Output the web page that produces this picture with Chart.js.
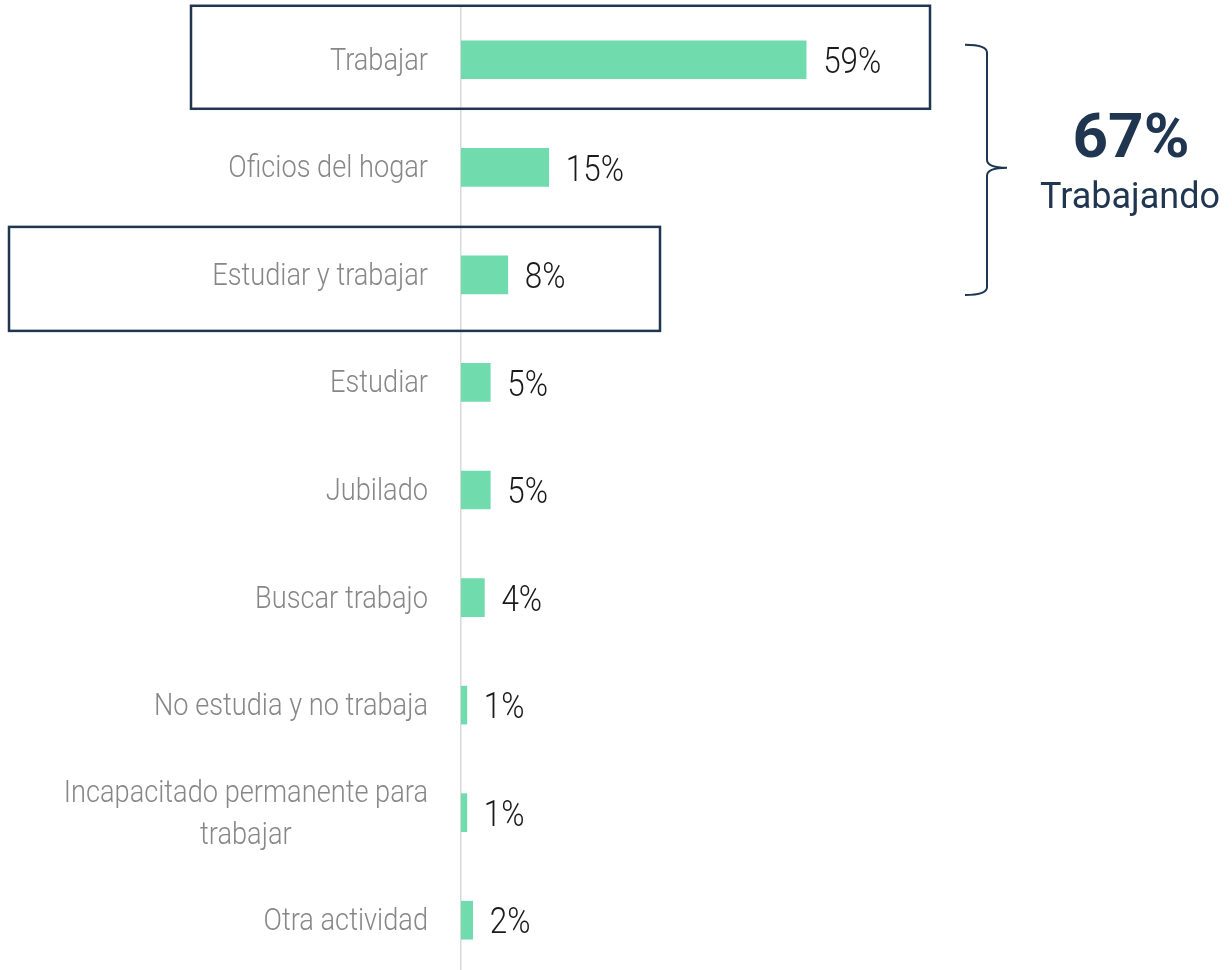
<!DOCTYPE html>
<html>
<head>
<meta charset="utf-8">
<script src="https://cdn.jsdelivr.net/npm/chart.js@4"></script>
<style>
  html, body { margin: 0; padding: 0; background: #fff; overflow: hidden; }
  #wrap { position: relative; width: 1232px; height: 974px; }
</style>
</head>
<body>
<div id="wrap"><canvas id="chart"></canvas></div>
<script>
const categories = [
  'Trabajar',
  'Oficios del hogar',
  'Estudiar y trabajar',
  'Estudiar',
  'Jubilado',
  'Buscar trabajo',
  'No estudia y no trabaja',
  ['Incapacitado permanente para', 'trabajar'],
  'Otra actividad',
];
const values = [59, 15, 8, 5, 5, 4, 1, 1, 2];
const highlighted = [0, 2];
const totalLabel = '67%';
const totalCaption = 'Trabajando';

const NAVY = '#1f3550';
const SQUEEZE = 0.85;

function condensedText(ctx, text, x, y, font, color, align) {
  ctx.save();
  ctx.font = font;
  ctx.fillStyle = color;
  ctx.textBaseline = 'middle';
  ctx.textAlign = align;
  ctx.translate(x, y);
  ctx.scale(SQUEEZE, 1);
  ctx.fillText(text, 0, 0);
  ctx.restore();
}

const labelsPlugin = {
  id: 'labels',
  afterDatasetsDraw(chart) {
    const { ctx } = chart;
    const yScale = chart.scales.y;
    const meta = chart.getDatasetMeta(0);

    // category labels, right edge 33px left of the axis
    categories.forEach((cat, i) => {
      const y = yScale.getPixelForTick(i) + 2;
      const lines = Array.isArray(cat) ? cat : [cat];
      const right = yScale.right - 33;
      const font = '300 32px Roboto';
      ctx.save();
      ctx.font = font;
      const widths = lines.map(l => ctx.measureText(l).width * SQUEEZE);
      ctx.restore();
      const maxW = Math.max(...widths);
      const lineH = 42;
      lines.forEach((line, j) => {
        const ly = y + (j - (lines.length - 1) / 2) * lineH;
        const cx = right - maxW / 2;
        condensedText(ctx, line, cx, ly, font, '#878787', 'center');
      });
    });

    // value labels
    meta.data.forEach((bar, i) => {
      condensedText(ctx, values[i] + '%', bar.x + 17, bar.y + 4, '300 37px Roboto', '#1a1a1a', 'left');
    });

    // highlight boxes: [left, right, offset above row centre, offset below]
    const boxes = { 0: [191, 930, 54, 49], 2: [9, 660, 48, 56] };
    ctx.save();
    ctx.strokeStyle = NAVY;
    ctx.lineWidth = 2.5;
    highlighted.forEach(i => {
      const y = yScale.getPixelForTick(i);
      const [x1, x2, up, down] = boxes[i];
      ctx.strokeRect(x1, y - up, x2 - x1, up + down);
    });

    // brace spanning the highlighted rows
    const yTop = yScale.getPixelForTick(0) - 15;
    const yBot = yScale.getPixelForTick(2) + 20;
    const yMid = (yTop + yBot) / 2 - 2;
    const bx = 987;
    ctx.lineWidth = 2;
    ctx.beginPath();
    ctx.moveTo(965, yTop);
    ctx.quadraticCurveTo(bx, yTop, bx, yTop + 8);
    ctx.lineTo(bx, yMid - 8);
    ctx.quadraticCurveTo(bx, yMid, 1007, yMid);
    ctx.quadraticCurveTo(bx, yMid, bx, yMid + 8);
    ctx.lineTo(bx, yBot - 8);
    ctx.quadraticCurveTo(bx, yBot, 965, yBot);
    ctx.stroke();

    ctx.fillStyle = NAVY;
    ctx.textAlign = 'center';
    ctx.textBaseline = 'alphabetic';
    ctx.font = 'bold 62px Roboto';
    ctx.fillText(totalLabel, 1131, 157);
    ctx.font = '400 36px Roboto';
    ctx.fillText(totalCaption, 1130, 208);
    ctx.restore();
  },
};

new Chart(document.getElementById('chart'), {
  type: 'bar',
  data: {
    labels: categories,
    datasets: [
      {
        data: values,
        backgroundColor: '#70dbad',
        borderWidth: 0,
        barThickness: 38,
      },
    ],
  },
  options: {
    indexAxis: 'y',
    responsive: true,
    maintainAspectRatio: false,
    animation: false,
    layout: { padding: { left: 461, right: 186, top: 6, bottom: 0 } },
    plugins: {
      legend: { display: false },
      tooltip: { enabled: false },
    },
    scales: {
      x: { display: false, min: 0, max: 100 },
      y: {
        display: true,
        ticks: { display: false },
        grid: { display: false, drawTicks: false },
        border: { color: '#d9d9d9', width: 1.5 },
      },
    },
  },
  plugins: [labelsPlugin],
});
</script>
</body>
</html>
